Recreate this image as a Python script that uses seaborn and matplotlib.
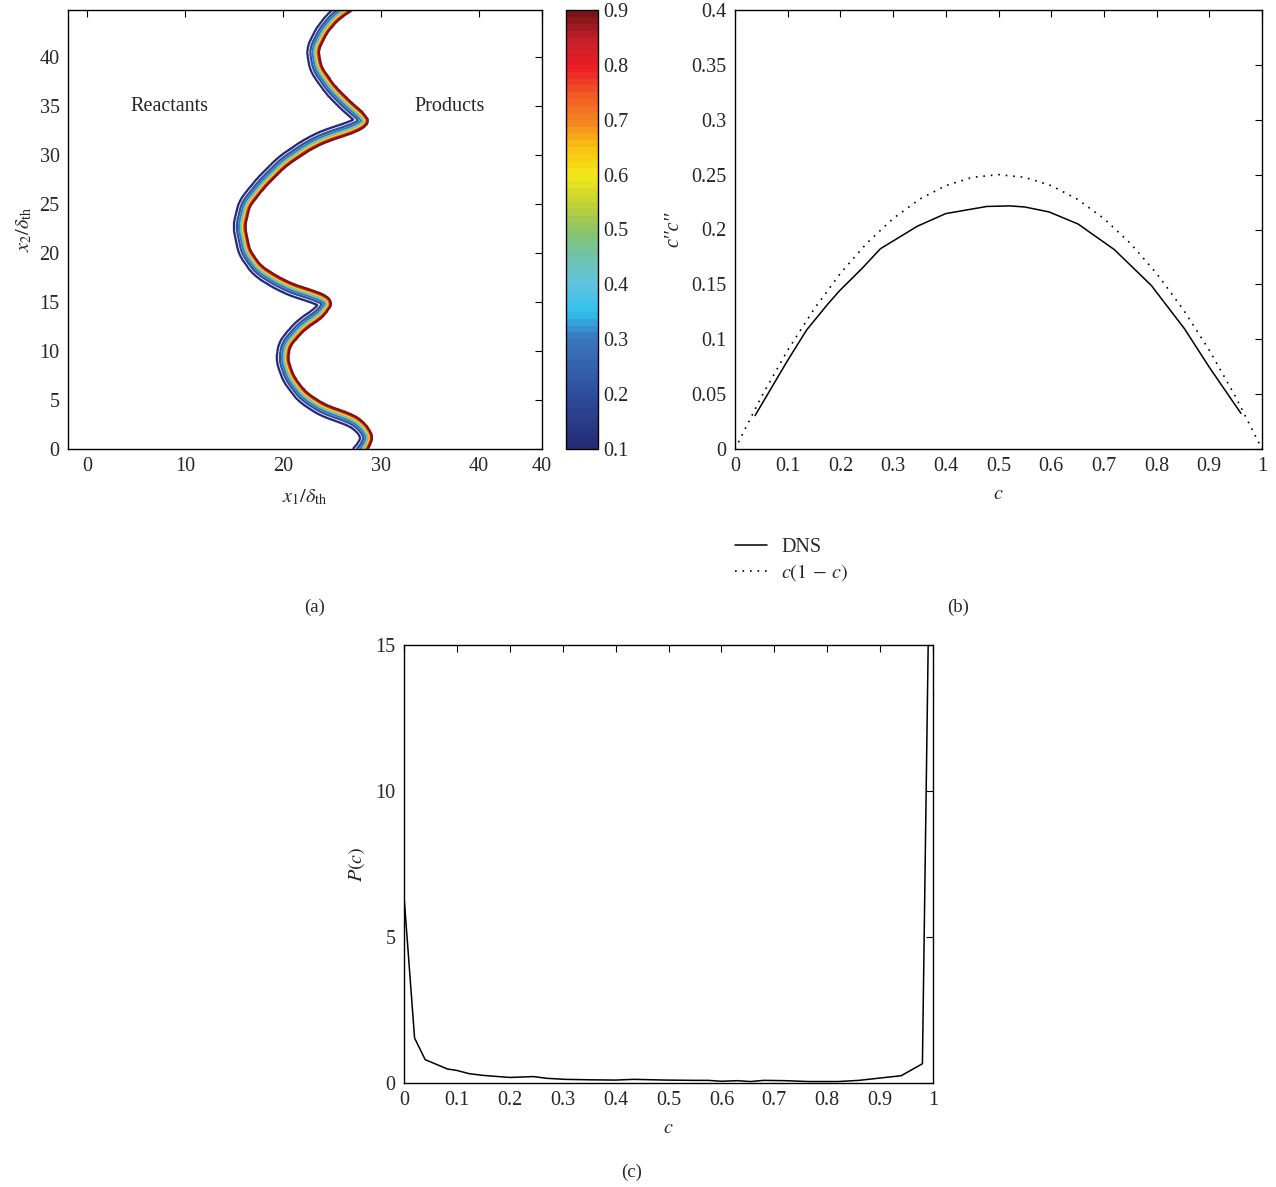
import numpy as np
import pandas as pd
import matplotlib
matplotlib.use("Agg")
import matplotlib.pyplot as plt
import seaborn as sns
from matplotlib.colors import Normalize, BoundaryNorm, LinearSegmentedColormap
from matplotlib.cm import ScalarMappable
from matplotlib.lines import Line2D

# ---------------- data ----------------
# (a) position of the c = 0.9 isoline (x1) along x2
front_x2 = [-1.0, 0.0, 1.26, 2.6, 3.6, 4.3, 5.7, 7.4, 9.1, 10.5, 12.2, 13.5, 14.9, 15.9,
            16.4, 17.3, 18.6, 20.3, 22.7, 24.8, 26.8, 28.9, 30.6, 31.6, 32.3, 33.3,
            34.3, 35.3, 37.0, 39.0, 40.7, 42.5, 43.9, 44.9, 46.0]
front_x1 = [27.8, 28.7, 29.2, 28.4, 27.0, 24.6, 22.4, 21.1, 20.5, 20.7, 22.2, 24.1, 25.1, 24.1,
            22.0, 19.9, 17.8, 16.6, 16.1, 16.6, 18.2, 20.3, 22.8, 24.9, 27.4, 28.9,
            28.2, 27.0, 25.3, 23.9, 23.6, 24.5, 25.7, 27.2, 28.6]
# contour levels and their normal offsets from the 0.9 isoline (in delta_th)
c_levels = [0.1, 0.2, 0.3, 0.4, 0.5, 0.6, 0.7, 0.8, 0.9]
c_offsets = [-1.15, -0.86, -0.63, -0.45, -0.32, -0.21, -0.13, -0.06, 0.0]
a_xticks = [0, 10, 20, 30, 40]
a_yticks = [0, 5, 10, 15, 20, 25, 30, 35, 40]
# colour scale (MATLAB-like jet as printed)
cmap_pos = [0.0, 0.125, 0.25, 0.31, 0.375, 0.44, 0.5, 0.56, 0.625, 0.69, 0.75, 0.81, 0.875, 0.94, 1.0]
cmap_col = ["#262b78", "#2f4f9e", "#3a78be", "#2fc2ee", "#62c3dc", "#70c3a8", "#8dc466",
            "#c2d233", "#f5e81a", "#f9c012", "#f38420", "#f15a24", "#ed1c24", "#c2202a", "#7a1418"]

# (b) scalar variance
c_dns = [0.038, 0.099, 0.136, 0.176, 0.198, 0.242, 0.276, 0.346, 0.40, 0.478, 0.522,
         0.55, 0.596, 0.651, 0.72, 0.79, 0.853, 0.90, 0.96]
var_dns = [0.0304, 0.080, 0.1085, 0.132, 0.144, 0.165, 0.1825, 0.203, 0.2145, 0.221, 0.2215,
           0.2205, 0.216, 0.205, 0.1816, 0.149, 0.1095, 0.0745, 0.0325]
c_model = [0.0, 0.05, 0.1, 0.15, 0.2, 0.25, 0.3, 0.35, 0.4, 0.45, 0.5,
           0.55, 0.6, 0.65, 0.7, 0.75, 0.8, 0.85, 0.9, 0.95, 1.0]
var_model = [0.0, 0.0475, 0.09, 0.1275, 0.16, 0.1875, 0.21, 0.2275, 0.24, 0.2475, 0.25,
             0.2475, 0.24, 0.2275, 0.21, 0.1875, 0.16, 0.1275, 0.09, 0.0475, 0.0]

# (c) PDF of c
c_pdf = [0.0, 0.02, 0.04, 0.082, 0.1, 0.123, 0.15, 0.2, 0.245, 0.27, 0.305, 0.35, 0.4,
         0.434, 0.495, 0.55, 0.575, 0.6, 0.63, 0.655, 0.68, 0.72, 0.765, 0.82, 0.86,
         0.9, 0.94, 0.98, 1.0]
p_pdf = [6.4, 1.54, 0.80, 0.48, 0.43, 0.32, 0.26, 0.19, 0.22, 0.16, 0.125, 0.11, 0.10,
         0.125, 0.10, 0.09, 0.09, 0.06, 0.08, 0.05, 0.09, 0.08, 0.05, 0.05, 0.09,
         0.17, 0.25, 0.66, 27.0]

# ---------------- style ----------------
sns.set_theme(style="white")
plt.rcParams["font.family"] = ["Liberation Serif", "DejaVu Serif"]
plt.rcParams["mathtext.fontset"] = "stix"
plt.rcParams["xtick.direction"] = "in"
plt.rcParams["ytick.direction"] = "in"
plt.rcParams["axes.edgecolor"] = "black"
plt.rcParams["axes.linewidth"] = 1.0

TF = 14.5
fig = plt.figure(figsize=(12.76, 11.87), dpi=100)
W, H = 1276.0, 1187.0

def rect(l, t, r, b):
    return [l / W, 1 - b / H, (r - l) / W, (b - t) / H]

def style_ticks(ax):
    ax.tick_params(axis="both", which="both", direction="in", top=True, right=True,
                   length=5, width=0.8, labelsize=TF, color="black", pad=6)

# ---------------- (a) ----------------
axa = fig.add_axes(rect(68, 10, 542, 449))
xlim_a = (-1.94, 46.45)
ylim_a = (0.0, 44.8)

yd = np.linspace(min(front_x2), max(front_x2), 1800)
xd = np.interp(yd, front_x2, front_x1)
k = 41
ker = np.ones(k) / k
xd = np.convolve(np.pad(xd, k // 2, mode="edge"), ker, mode="valid")

gx = np.linspace(11, 34, 380)
gy = np.linspace(0, 44.8, 560)
GX, GY = np.meshgrid(gx, gy)
D = np.empty_like(GX)
for i in range(len(gy)):
    dx = GX[i][:, None] - xd[None, :]
    dy = GY[i][:, None] - yd[None, :]
    D[i] = np.sqrt((dx ** 2 + dy ** 2).min(axis=1))
sign = np.sign(GX - np.interp(GY, yd, xd))
SD = sign * D
C = np.interp(SD, [-4.0] + c_offsets + [1.0], [0.0] + c_levels + [1.0])

base = LinearSegmentedColormap.from_list("pjet", list(zip(cmap_pos, cmap_col)))
jet = base.resampled(64)
norm = Normalize(0.1, 0.9)
axa.contour(GX, GY, C, levels=c_levels, cmap=jet, norm=norm, linewidths=1.6)
axa.set_xlim(*xlim_a)
axa.set_ylim(*ylim_a)
axa.set_xticks(a_xticks + [xlim_a[1]])
axa.set_xticklabels([str(v) for v in a_xticks] + ["40"])
axa.set_yticks(a_yticks)
axa.set_yticklabels([str(v) for v in a_yticks])
style_ticks(axa)
axa.text(8.4, 35.0, "Reactants", fontsize=TF, ha="center", va="center")
axa.text(37.0, 35.0, "Products", fontsize=TF, ha="center", va="center")
axa.set_xlabel(r"$x_1/\delta_{\rm th}$", fontsize=TF, labelpad=8)
axa.set_ylabel(r"$x_2/\delta_{\rm th}$", fontsize=TF, labelpad=4)

cax = fig.add_axes(rect(566, 10, 598, 449))
bounds = np.linspace(0.1, 0.9, 65)
sm = ScalarMappable(norm=BoundaryNorm(bounds, 64), cmap=jet)
cb = fig.colorbar(sm, cax=cax, ticks=c_levels)
cb.ax.set_yticklabels([f"{v:.1f}" for v in c_levels])
cb.ax.tick_params(direction="in", length=4, width=0.8, labelsize=TF, left=True, right=True, pad=4)
cb.outline.set_linewidth(1.0)

# ---------------- (b) ----------------
axb = fig.add_axes(rect(735, 10, 1262, 449))
sns.lineplot(x=c_dns, y=var_dns, ax=axb, color="black", lw=1.1, label="DNS")
sns.lineplot(x=c_model, y=var_model, ax=axb, color="black", lw=1.2,
             linestyle=(0, (1, 3.5)), label=r"$c(1-c)$")
axb.set_xlim(0, 1)
axb.set_ylim(0, 0.4)
axb.set_xticks(np.arange(0, 1.01, 0.1))
axb.set_xticklabels(["0"] + [f"{v:.1f}" for v in np.arange(0.1, 0.95, 0.1)] + ["1"])
axb.set_yticks(np.arange(0, 0.401, 0.05))
axb.set_yticklabels(["0", "0.05", "0.1", "0.15", "0.2", "0.25", "0.3", "0.35", "0.4"])
style_ticks(axb)
axb.set_xlabel(r"$c$", fontsize=TF, labelpad=6)
axb.set_ylabel("c\u2032\u2032c\u2032\u2032", fontsize=TF, style="italic", labelpad=6)
axb.legend_.remove()
handles = [Line2D([], [], color="black", lw=1.1),
           Line2D([], [], color="black", lw=1.2, linestyle=(0, (1, 3.5)))]
fig.legend(handles, ["DNS", r"$c(1\,-\,c)$"], loc="upper left",
           bbox_to_anchor=(717 / W, 1 - 520 / H), frameon=False, fontsize=TF,
           handlelength=1.6, handletextpad=0.7, labelspacing=0.25)

# ---------------- (c) ----------------
axc = fig.add_axes(rect(404, 645, 933, 1083))
sns.lineplot(x=c_pdf, y=p_pdf, ax=axc, color="black", lw=1.1)
axc.set_xlim(0, 1)
axc.set_ylim(0, 15)
axc.set_xticks(np.arange(0, 1.01, 0.1))
axc.set_xticklabels(["0"] + [f"{v:.1f}" for v in np.arange(0.1, 0.95, 0.1)] + ["1"])
axc.set_yticks([0, 5, 10, 15])
axc.set_yticklabels(["0", "5", "10", "15"])
style_ticks(axc)
axc.set_xlabel(r"$c$", fontsize=TF, labelpad=6)
axc.set_ylabel(r"$P(c)$", fontsize=TF, labelpad=6)

# captions
fig.text(315 / W, 1 - 607 / H, "(a)", ha="center", va="center", fontsize=TF - 1)
fig.text(958 / W, 1 - 607 / H, "(b)", ha="center", va="center", fontsize=TF - 1)
fig.text(632 / W, 1 - 1172 / H, "(c)", ha="center", va="center", fontsize=TF - 1)

fig.savefig("out.png", dpi=100)
